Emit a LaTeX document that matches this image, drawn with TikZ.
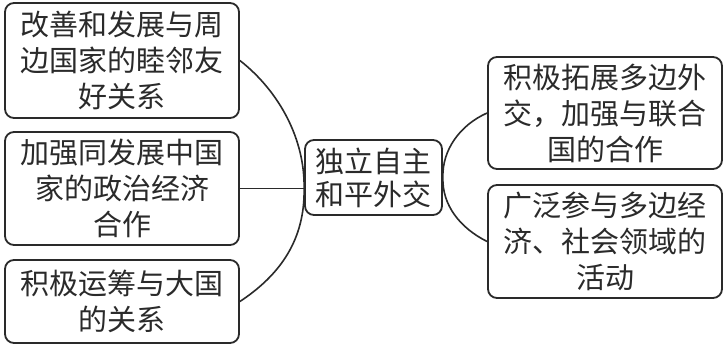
\documentclass[tikz,border=0pt]{standalone}
\usepackage{fontspec}
\newfontfamily\cjk{Noto Sans CJK SC}
\definecolor{ink}{HTML}{2A2A2A}
\begin{document}
\begin{tikzpicture}[x=1pt,y=-1pt,
  box/.style={draw=ink, line width=1.8pt, rounded corners=9pt, minimum width=234pt, inner sep=0pt,
    align=center, text=ink, font=\cjk\fontsize{29}{36}\selectfont},
  conn/.style={draw=ink, line width=1.6pt}]
\useasboundingbox (0,0) rectangle (727,347);
\fill[white] (0,0) rectangle (727,347);
\node[box, minimum height=115pt] (b1) at (122,60.5) {改善和发展与周\\边国家的睦邻友\\好关系};
\node[box, minimum height=113pt] (b2) at (122,188.5) {加强同发展中国\\家的政治经济\\合作};
\node[box, minimum height=83pt] (b3) at (122,301.5) {积极运筹与大国\\的关系};
\node[box, minimum width=137pt, minimum height=75pt, font=\cjk\fontsize{29}{33}\selectfont] (c) at (373.5,177.5) {独立自主\\和平外交};
\node[box, minimum height=112pt] (r1) at (605,113) {积极拓展多边外\\交，加强与联合\\国的合作};
\node[box, minimum height=113pt] (r2) at (605,241.5) {广泛参与多边经\\济、社会领域的\\活动};
\coordinate (lv) at (c.west |- b2.east);
\draw[conn] (b1.east) .. controls (280,92) and (305,140) .. (lv) .. controls (305,240) and (280,275) .. (b3.east);
\draw[conn] (b2.east) -- (lv);
\draw[conn] (r1.west) .. controls (460,125) and (442,150) .. (c.east) .. controls (442,205) and (460,228) .. (r2.west);
\end{tikzpicture}
\end{document}
